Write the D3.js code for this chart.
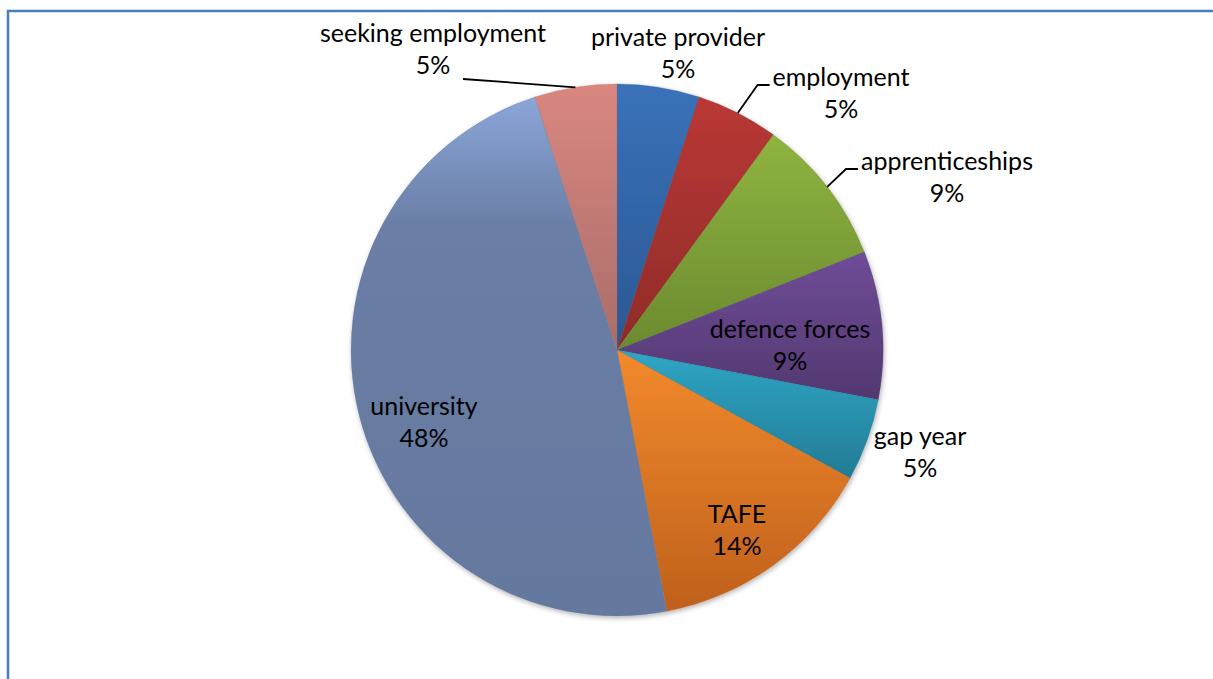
<!DOCTYPE html>
<html>
<head>
<meta charset="utf-8">
<script src="https://cdn.jsdelivr.net/npm/d3@7"></script>
<style>
  html, body { margin: 0; padding: 0; background: #fff; }
  svg { display: block; }
</style>
</head>
<body>
<script>
// data (percent of students)
var categories = ["private provider", "employment", "apprenticeships", "defence forces",
                  "gap year", "TAFE", "university", "seeking employment"];
var values = [5, 5, 9, 9, 5, 14, 48, 5];
var percentLabels = ["5%", "5%", "9%", "9%", "5%", "14%", "48%", "5%"];

// gradient colours per slice: top -> bottom
var topColors =    ["#3a72b9", "#ba3835", "#8fb440", "#6f4c98", "#2fa6c6", "#f28a2c", "#8aa6d8", "#d9877f"];
var bottomColors = ["#2b5793", "#8f2b29", "#6b8a30", "#523870", "#227b94", "#bf601c", "#65789e", "#aa6c69"];

var W = 1213, H = 679;
var cx = 617, cy = 350, R = 266;

// label placement (offset of the two-line label centre from the pie centre)
var labelLayout = {
  "private provider":   { dx: 61,   dy: -291, leader: null },
  "employment":         { dx: 224,  dy: -251, leader: "right" },
  "apprenticeships":    { dx: 330,  dy: -167, leader: "right" },
  "defence forces":     { dx: 173,  dy: 1,    leader: null },
  "gap year":           { dx: 303,  dy: 108,  leader: null },
  "TAFE":               { dx: 120,  dy: 186,  leader: null },
  "university":         { dx: -193, dy: 78,   leader: null },
  "seeking employment": { dx: -184, dy: -295, leader: "left" }
};

var svg = d3.select("body")
  .append("svg")
  .attr("width", W)
  .attr("height", H);

var defs = svg.append("defs");

var shadow = defs.append("filter")
  .attr("id", "pieShadow")
  .attr("x", "-10%").attr("y", "-10%")
  .attr("width", "120%").attr("height", "120%");
shadow.append("feDropShadow")
  .attr("dx", 1).attr("dy", 2)
  .attr("stdDeviation", 2.5)
  .attr("flood-color", "#000")
  .attr("flood-opacity", 0.3);

categories.forEach(function (c, i) {
  var g = defs.append("linearGradient")
    .attr("id", "grad" + i)
    .attr("x1", 0).attr("y1", 0)
    .attr("x2", 0).attr("y2", 1);
  g.append("stop").attr("offset", "0%").attr("stop-color", topColors[i]);
  if (c === "university") {
    g.append("stop").attr("offset", "25%").attr("stop-color", "#6a7ea6");
  }
  g.append("stop").attr("offset", "100%").attr("stop-color", bottomColors[i]);
});

// chart frame (runs off the right and bottom edge of the picture)
svg.append("rect")
  .attr("x", 8)
  .attr("y", 11)
  .attr("width", W + 50)
  .attr("height", H + 50)
  .attr("fill", "none")
  .attr("stroke", "#4a7ebb")
  .attr("stroke-width", 2.5);

var pie = d3.pie().sort(null).value(function (d) { return d; });
var arcs = pie(values);

var arc = d3.arc().innerRadius(0).outerRadius(R);

var pieG = svg.append("g")
  .attr("transform", "translate(" + cx + "," + cy + ")");

var slices = pieG.append("g").attr("filter", "url(#pieShadow)");

slices.selectAll("path")
  .data(arcs)
  .enter()
  .append("path")
  .attr("d", arc)
  .attr("fill", function (d, i) { return "url(#grad" + i + ")"; })
  .attr("stroke", function (d, i) { return bottomColors[i]; })
  .attr("stroke-width", 0.3);

// labels
var labelG = pieG.append("g")
  .attr("font-family", "Lato, 'Open Sans', sans-serif")
  .attr("font-size", 25)
  .attr("fill", "#000");

arcs.forEach(function (d, i) {
  var name = categories[i];
  var L = labelLayout[name];
  var t = labelG.append("text")
    .attr("text-anchor", "middle")
    .attr("x", L.dx)
    .attr("y", L.dy);
  t.append("tspan").attr("x", L.dx).attr("y", L.dy - 13).text(name);
  t.append("tspan").attr("x", L.dx).attr("y", L.dy + 19).text(percentLabels[i]);

  if (!L.leader) return;

  var mid = (d.startAngle + d.endAngle) / 2;
  var px = Math.sin(mid) * R, py = -Math.cos(mid) * R;
  var w = t.select("tspan").node().getComputedTextLength();
  var pts;
  if (L.leader === "right") {
    var ex = L.dx - w / 2 - 3, ey = L.dy - 14;
    pts = [[px, py], [ex - 12, ey], [ex, ey]];
  } else {
    pts = [[px, py], [L.dx + 30, L.dy + 24]];
  }
  pieG.append("path")
    .attr("d", d3.line()(pts))
    .attr("fill", "none")
    .attr("stroke", "#000")
    .attr("stroke-width", 1.8);
});
</script>
</body>
</html>
